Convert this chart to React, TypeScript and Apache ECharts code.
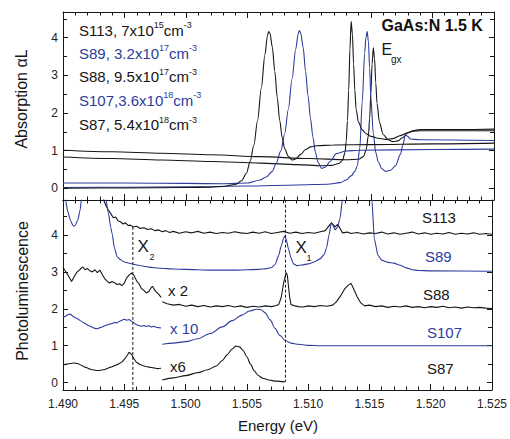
import React, { useEffect, useRef } from 'react';
import * as echarts from 'echarts';

const BLACK = '#161616';
const BLUE = '#2d3c9c';
const FONT = 'Liberation Sans, Arial, Helvetica, sans-serif';

// ---------- Top panel: absorption αL vs energy (eV) ----------
const absS113: [number, number][] = [
  [1.490, 1.01], [1.494, 0.97], [1.498, 0.93], [1.502, 0.89], [1.506, 0.84], [1.510, 0.79], [1.513, 0.76],
  [1.5140, 0.77], [1.5144, 0.84], [1.5146, 1.0], [1.5148, 1.4], [1.5149, 1.85], [1.5150, 2.5], [1.5151, 3.3],
  [1.5152, 3.73], [1.5153, 3.45], [1.5154, 2.8], [1.5155, 2.25], [1.5157, 1.75], [1.5160, 1.43], [1.5164, 1.29],
  [1.5168, 1.24], [1.5172, 1.26], [1.5176, 1.35], [1.5180, 1.47], [1.5184, 1.53], [1.5190, 1.56], [1.5220, 1.56],
  [1.5250, 1.57],
];
const absS89: [number, number][] = [
  [1.490, 0.02], [1.495, 0.03], [1.500, 0.04], [1.505, 0.06], [1.509, 0.09], [1.5115, 0.11], [1.5125, 0.15],
  [1.5130, 0.22], [1.5134, 0.33], [1.5137, 0.45], [1.5139, 0.6], [1.5141, 1.06], [1.5143, 2.3], [1.5145, 3.6],
  [1.5146, 4.0], [1.5147, 4.16], [1.5148, 3.9], [1.5149, 3.2], [1.5150, 2.4], [1.5152, 1.45], [1.5154, 0.95],
  [1.5156, 0.7], [1.5159, 0.52], [1.5162, 0.45], [1.5166, 0.48], [1.5170, 0.6], [1.5174, 0.9], [1.5176, 1.15],
  [1.5178, 1.42], [1.5180, 1.38], [1.5182, 1.31], [1.5190, 1.29], [1.5250, 1.27],
];
const absS88: [number, number][] = [
  [1.490, 0.83], [1.494, 0.79], [1.498, 0.75], [1.502, 0.71], [1.506, 0.67], [1.509, 0.63], [1.511, 0.60],
  [1.5118, 0.61], [1.5124, 0.66], [1.5127, 0.74], [1.5129, 0.95], [1.5130, 1.25], [1.5131, 1.8], [1.5132, 2.6],
  [1.5133, 3.7], [1.5134, 4.43], [1.5135, 4.1], [1.5136, 3.3], [1.5137, 2.6], [1.5138, 2.1], [1.5140, 1.75],
  [1.5143, 1.55], [1.5146, 1.45], [1.5150, 1.38], [1.5156, 1.33], [1.5162, 1.30], [1.5168, 1.32], [1.5174, 1.40],
  [1.5180, 1.48], [1.5186, 1.52], [1.5190, 1.53], [1.5250, 1.53],
];
const absS107: [number, number][] = [
  [1.490, 0.14], [1.495, 0.14], [1.500, 0.13], [1.503, 0.12], [1.505, 0.14], [1.506, 0.22], [1.5065, 0.30],
  [1.5070, 0.45], [1.5073, 0.66], [1.5077, 1.0], [1.5080, 1.45], [1.5083, 2.1], [1.5086, 2.9], [1.5089, 3.7],
  [1.5091, 4.1], [1.5092, 4.19], [1.5093, 4.12], [1.5095, 3.75], [1.5097, 3.1], [1.5099, 2.45], [1.5101, 1.85],
  [1.5103, 1.35], [1.5105, 0.95], [1.5107, 0.7], [1.5110, 0.53], [1.5113, 0.56], [1.5117, 0.72], [1.5122, 0.92],
  [1.5130, 0.99], [1.5140, 1.01], [1.5200, 1.03], [1.5250, 1.04],
];
const absS87: [number, number][] = [
  [1.490, 0.00], [1.495, 0.01], [1.500, 0.02], [1.502, 0.03], [1.503, 0.05], [1.504, 0.10], [1.5045, 0.2],
  [1.5049, 0.4], [1.5052, 0.72], [1.5055, 1.15], [1.5058, 1.8], [1.5061, 2.65], [1.5064, 3.55], [1.5066, 4.05],
  [1.5067, 4.16], [1.5068, 4.12], [1.5070, 3.75], [1.5072, 3.1], [1.5074, 2.4], [1.5076, 1.8], [1.5078, 1.35],
  [1.5080, 1.05], [1.5083, 0.85], [1.5086, 0.75], [1.5089, 0.78], [1.5093, 0.90], [1.5097, 1.03], [1.5101, 1.10],
  [1.5106, 1.13], [1.5120, 1.15], [1.5150, 1.16], [1.5200, 1.18], [1.5250, 1.20],
];

// ---------- Bottom panel: photoluminescence (offset, scaled) ----------
const plS113: [number, number][] = [
  [1.4930, 5.4], [1.4933, 4.96], [1.4935, 4.80], [1.4937, 4.68], [1.4939, 4.58], [1.4941, 4.47], [1.4943, 4.49],
  [1.4945, 4.38], [1.4947, 4.36], [1.4949, 4.30], [1.4951, 4.33], [1.4953, 4.26], [1.4955, 4.27], [1.4957, 4.22],
  [1.4960, 4.24], [1.4963, 4.18], [1.4966, 4.20], [1.4969, 4.15], [1.4972, 4.17], [1.4975, 4.12], [1.4978, 4.14],
  [1.4981, 4.09], [1.4984, 4.12], [1.4987, 4.07], [1.4990, 4.10], [1.4995, 4.05], [1.5000, 4.09], [1.5005, 4.06],
  [1.5010, 4.10], [1.5015, 4.05], [1.5020, 4.08], [1.5025, 4.04], [1.5030, 4.07], [1.5035, 4.05], [1.5040, 4.09],
  [1.5045, 4.06], [1.5050, 4.04], [1.5055, 4.08], [1.5060, 4.05], [1.5065, 4.09], [1.5070, 4.04], [1.5075, 4.07],
  [1.5080, 4.10], [1.5085, 4.05], [1.5090, 4.08], [1.5095, 4.04], [1.5100, 4.07], [1.5105, 4.05], [1.5110, 4.09],
  [1.5114, 4.12], [1.5117, 4.25], [1.5119, 4.33], [1.5121, 4.26], [1.5122, 4.22], [1.5124, 4.29], [1.5126, 4.18],
  [1.5128, 4.06], [1.5132, 4.08], [1.5135, 4.04], [1.5140, 4.07], [1.5145, 4.03], [1.5150, 4.06], [1.5155, 4.04],
  [1.5160, 4.08], [1.5165, 4.03], [1.5170, 4.06], [1.5175, 4.02], [1.5180, 4.05], [1.5185, 4.08], [1.5190, 4.03],
  [1.5195, 4.06], [1.5200, 4.02], [1.5205, 4.05], [1.5210, 4.03], [1.5215, 4.07], [1.5220, 4.02], [1.5225, 4.05],
  [1.5230, 4.03], [1.5235, 4.06], [1.5240, 4.02], [1.5245, 4.04], [1.5250, 4.02],
];
const plS89: [number, number][] = [
  [1.4900, 5.6], [1.4902, 4.96], [1.4904, 4.62], [1.4906, 4.40], [1.4908, 4.27], [1.4909, 4.24], [1.4910, 4.26],
  [1.4912, 4.40], [1.4914, 4.68], [1.4915, 4.96], [1.4917, 5.6], [1.4925, 7.0], [1.4933, 5.5], [1.4935, 4.96],
  [1.4937, 4.6], [1.4939, 4.2], [1.4940, 4.05], [1.4942, 3.65], [1.4944, 3.42], [1.4947, 3.33], [1.4950, 3.27],
  [1.4955, 3.23], [1.4960, 3.19], [1.4970, 3.13], [1.4980, 3.10], [1.4990, 3.08], [1.5000, 3.07], [1.5020, 3.05],
  [1.5040, 3.05], [1.5060, 3.07], [1.5066, 3.09], [1.5070, 3.12], [1.5073, 3.2], [1.5076, 3.45], [1.5078, 3.70],
  [1.5080, 3.92], [1.5081, 3.97], [1.5082, 3.90], [1.5084, 3.62], [1.5086, 3.38], [1.5088, 3.22], [1.5091, 3.17],
  [1.5095, 3.19], [1.5100, 3.22], [1.5105, 3.27], [1.5110, 3.36], [1.5113, 3.47], [1.5115, 3.65], [1.5117, 4.0],
  [1.5119, 4.33], [1.5120, 4.28], [1.5122, 4.14], [1.5124, 4.22], [1.5126, 4.45], [1.5128, 4.96], [1.5130, 5.8],
  [1.5140, 8.0], [1.5150, 5.8], [1.5152, 4.96], [1.5154, 3.90], [1.5157, 3.45], [1.5160, 3.32], [1.5165, 3.26],
  [1.5170, 3.24], [1.5175, 3.18], [1.5180, 3.11], [1.5185, 3.06], [1.5190, 3.04], [1.5200, 3.03], [1.5250, 3.02],
];
const plS88Low: [number, number][] = [
  [1.4900, 3.12], [1.4902, 3.02], [1.4904, 2.92], [1.4906, 2.80], [1.4907, 2.74], [1.4909, 2.86], [1.4911, 2.98],
  [1.4913, 3.04], [1.4915, 3.10], [1.4916, 3.14], [1.4918, 3.06], [1.4920, 3.09], [1.4922, 3.03], [1.4924, 3.00],
  [1.4926, 3.06], [1.4928, 2.98], [1.4930, 3.05], [1.4932, 2.93], [1.4934, 2.82], [1.4936, 2.75], [1.4938, 2.70],
  [1.4940, 2.74], [1.4942, 2.71], [1.4944, 2.66], [1.4946, 2.68], [1.4948, 2.63], [1.4950, 2.70], [1.4952, 2.84],
  [1.4954, 2.92], [1.4956, 2.97], [1.4958, 2.90], [1.4960, 2.76], [1.4962, 2.68], [1.4964, 2.55], [1.4966, 2.50],
  [1.4968, 2.43], [1.4970, 2.47], [1.4972, 2.58], [1.4973, 2.61], [1.4975, 2.50], [1.4976, 2.46], [1.4978, 2.40],
  [1.4980, 2.31],
];
const plS88High: [number, number][] = [
  [1.4981, 2.19], [1.4985, 2.14], [1.4990, 2.10], [1.4995, 2.12], [1.5000, 2.07], [1.5005, 2.10], [1.5010, 2.06],
  [1.5015, 2.09], [1.5020, 2.05], [1.5025, 2.08], [1.5030, 2.06], [1.5035, 2.09], [1.5040, 2.05], [1.5045, 2.08],
  [1.5050, 2.04], [1.5055, 2.07], [1.5060, 2.05], [1.5065, 2.08], [1.5070, 2.06], [1.5074, 2.09], [1.5076, 2.12],
  [1.5078, 2.30], [1.5080, 2.70], [1.5082, 2.98], [1.5083, 2.92], [1.5084, 2.60], [1.5085, 2.30], [1.5086, 2.12],
  [1.5089, 2.08], [1.5092, 2.06], [1.5096, 2.05], [1.5100, 2.08], [1.5105, 2.06], [1.5110, 2.09], [1.5115, 2.07],
  [1.5120, 2.10], [1.5123, 2.19], [1.5127, 2.38], [1.5130, 2.55], [1.5133, 2.65], [1.5135, 2.69], [1.5137, 2.55],
  [1.5140, 2.33], [1.5143, 2.16], [1.5146, 2.08], [1.5150, 2.10], [1.5155, 2.06], [1.5160, 2.08], [1.5165, 2.04],
  [1.5170, 2.07], [1.5175, 2.05], [1.5180, 2.08], [1.5185, 2.04], [1.5190, 2.06], [1.5195, 2.03], [1.5200, 2.06],
  [1.5205, 2.04], [1.5210, 2.07], [1.5215, 2.03], [1.5220, 2.05], [1.5225, 2.02], [1.5230, 2.05], [1.5235, 2.03],
  [1.5240, 2.04], [1.5245, 2.02], [1.5250, 2.01],
];
const plS107Low: [number, number][] = [
  [1.4900, 1.77], [1.4902, 1.80], [1.4904, 1.84], [1.4906, 1.86], [1.4908, 1.80], [1.4910, 1.76], [1.4912, 1.73],
  [1.4914, 1.68], [1.4916, 1.64], [1.4918, 1.60], [1.4920, 1.56], [1.4922, 1.53], [1.4924, 1.50], [1.4926, 1.47],
  [1.4928, 1.46], [1.4930, 1.49], [1.4932, 1.51], [1.4934, 1.54], [1.4936, 1.56], [1.4938, 1.59], [1.4940, 1.60],
  [1.4942, 1.63], [1.4944, 1.62], [1.4946, 1.66], [1.4948, 1.69], [1.4950, 1.72], [1.4952, 1.69], [1.4954, 1.71],
  [1.4956, 1.66], [1.4958, 1.62], [1.4960, 1.57], [1.4962, 1.55], [1.4964, 1.53], [1.4966, 1.55], [1.4968, 1.52],
  [1.4970, 1.54], [1.4972, 1.51], [1.4974, 1.53], [1.4976, 1.50], [1.4978, 1.49], [1.4980, 1.48],
];
const plS107High: [number, number][] = [
  [1.4981, 1.04], [1.4990, 1.07], [1.5000, 1.11], [1.5010, 1.19], [1.5020, 1.33], [1.5030, 1.51], [1.5038, 1.68],
  [1.5046, 1.83], [1.5052, 1.94], [1.5058, 1.99], [1.5062, 1.97], [1.5065, 1.89], [1.5069, 1.70], [1.5073, 1.47],
  [1.5077, 1.28], [1.5081, 1.15], [1.5086, 1.07], [1.5092, 1.04], [1.5100, 1.01], [1.5110, 1.00], [1.5250, 1.00],
];
const plS87Low: [number, number][] = [
  [1.4900, 0.48], [1.4903, 0.50], [1.4906, 0.52], [1.4909, 0.53], [1.4912, 0.52], [1.4915, 0.47], [1.4918, 0.42],
  [1.4921, 0.38], [1.4924, 0.35], [1.4927, 0.33], [1.4930, 0.33], [1.4933, 0.35], [1.4936, 0.38], [1.4939, 0.42],
  [1.4942, 0.46], [1.4945, 0.50], [1.4948, 0.56], [1.4950, 0.63], [1.4952, 0.72], [1.4954, 0.82], [1.4956, 0.76],
  [1.4958, 0.64], [1.4960, 0.55], [1.4963, 0.49], [1.4966, 0.45], [1.4970, 0.42], [1.4974, 0.40], [1.4977, 0.38],
  [1.4980, 0.39],
];
const plS87High: [number, number][] = [
  [1.4981, 0.07], [1.4990, 0.13], [1.5000, 0.19], [1.5010, 0.27], [1.5018, 0.35], [1.5025, 0.45], [1.5030, 0.60],
  [1.5034, 0.76], [1.5038, 0.91], [1.5041, 0.99], [1.5044, 0.97], [1.5047, 0.87], [1.5050, 0.70], [1.5053, 0.50],
  [1.5056, 0.32], [1.5059, 0.20], [1.5063, 0.12], [1.5068, 0.07], [1.5074, 0.04], [1.5081, 0.02],
];
const markerX1: [number, number][] = [[1.50815, 4.96], [1.50815, 0.02]];
const markerX2: [number, number][] = [[1.4957, 4.22], [1.4957, -0.2]];

// ---------- Texts ----------
const legendHeads = ['S113, 7x10', 'S89, 3.2x10', 'S88, 9.5x10', 'S107,3.6x10', 'S87, 5.4x10'];
const legendExps = ['15', '17', '17', '18', '18'];
const sampleNames = ['S113', 'S89', 'S88', 'S107', 'S87'];
const scaleNotes = ['x 2', 'x 10', 'x6'];

function xAxisOf(gridIndex: number, position: string, showLabel: boolean) {
  return {
    type: 'value', gridIndex, position, min: 1.49, max: 1.525, interval: 0.005,
    axisLine: { show: true, onZero: false, lineStyle: { color: BLACK, width: 1 } },
    axisTick: { show: true, inside: true, length: 6, lineStyle: { color: BLACK, width: 1 } },
    minorTick: { show: true, splitNumber: 5, length: 3.5, lineStyle: { color: BLACK, width: 1 } },
    splitLine: { show: false },
    minorSplitLine: { show: false },
    axisLabel: {
      show: showLabel, color: '#222', fontSize: 12, fontFamily: FONT, margin: 8,
      formatter: (v: number) => v.toFixed(3),
    },
  };
}
function yAxisOf(gridIndex: number, position: string, min: number, max: number, showLabel: boolean) {
  return {
    type: 'value', gridIndex, position, min, max, minInterval: 1, maxInterval: 1,
    axisLine: { show: true, onZero: false, lineStyle: { color: BLACK, width: 1 } },
    axisTick: { show: true, inside: true, length: 5, lineStyle: { color: BLACK, width: 1 } },
    minorTick: { show: true, splitNumber: 2, length: 4, lineStyle: { color: BLACK, width: 1 } },
    splitLine: { show: false },
    minorSplitLine: { show: false },
    axisLabel: {
      show: showLabel, color: '#222', fontSize: 12, fontFamily: FONT, margin: 5,
      formatter: (v: number) => (Math.abs(v - Math.round(v)) < 1e-6 ? String(Math.round(v)) : ''),
    },
  };
}

function lineSeries(data: [number, number][], color: string, panel: number, smooth = 0, dashed = false) {
  return {
    type: 'line', data, xAxisIndex: panel * 2, yAxisIndex: panel * 2,
    symbol: 'none', silent: true, clip: true, smooth, smoothMonotone: 'x',
    lineStyle: { color, width: dashed ? 1 : 1.1, type: dashed ? [3, 2] : 'solid' },
  };
}

function plainText(x: number, y: number, text: string, color: string, size = 15, extra: any = {}) {
  return {
    type: 'text', x, y, silent: true,
    style: { text, fill: color, fontSize: size, fontFamily: FONT, align: 'left', verticalAlign: 'middle', ...extra },
  };
}

export default function App() {
  const ref = useRef<HTMLDivElement>(null);
  useEffect(() => {
    if (!ref.current) return;
    const chart = echarts.init(ref.current, null, { renderer: 'svg' });
    const legendColors = [BLACK, BLUE, BLACK, BLUE, BLACK];
    const legendY = [30, 53, 76.5, 100, 124.5];
    const graphics: any[] = [];
    legendHeads.forEach((h, i) => {
      graphics.push({
        type: 'text', x: 79, y: legendY[i], silent: true,
        style: {
          text: `{n|${h}}{s|${legendExps[i]}}{n|cm}{s|-3}`,
          align: 'left', verticalAlign: 'middle',
          rich: {
            n: { fontSize: 15, fontFamily: FONT, fill: legendColors[i], lineHeight: 19 },
            s: { fontSize: 9, fontFamily: FONT, fill: legendColors[i], verticalAlign: 'top' },
          },
        },
      });
    });
    const nameX = [422, 425, 423, 427, 427];
    const nameY = [217.5, 256, 294, 332, 368.5];
    sampleNames.forEach((s, i) => graphics.push(plainText(nameX[i], nameY[i], s, legendColors[i])));
    graphics.push(plainText(168, 290, scaleNotes[0], BLACK));
    graphics.push(plainText(170, 328, scaleNotes[1], BLUE));
    graphics.push(plainText(170, 366, scaleNotes[2], BLACK));
    graphics.push(plainText(137.5, 246.5, 'X', BLACK, 17));
    graphics.push(plainText(149.5, 257, '2', BLACK, 9));
    graphics.push(plainText(295.5, 247, 'X', BLACK, 17));
    graphics.push(plainText(306.5, 257.5, '1', BLACK, 9));
    graphics.push(plainText(381.5, 49, 'E', BLACK, 16));
    graphics.push(plainText(391, 59, 'gx', BLACK, 10));
    graphics.push(plainText(381.5, 25, 'GaAs:N 1.5 K', '#111', 16, { fontWeight: 'bold' }));
    graphics.push({
      type: 'text', x: 21, y: 99, rotation: Math.PI / 2, silent: true,
      style: { text: 'Absorption \u03b1L', fill: BLACK, fontSize: 16, fontFamily: FONT, align: 'center', verticalAlign: 'middle' },
    });
    graphics.push({
      type: 'text', x: 22, y: 291, rotation: Math.PI / 2, silent: true,
      style: { text: 'Photoluminescence', fill: BLACK, fontSize: 16, fontFamily: FONT, align: 'center', verticalAlign: 'middle' },
    });
    graphics.push({
      type: 'text', x: 278, y: 425, silent: true,
      style: { text: 'Energy (eV)', fill: BLACK, fontSize: 15, fontFamily: FONT, align: 'center', verticalAlign: 'middle' },
    });

    chart.setOption({
      animation: false,
      backgroundColor: '#ffffff',
      grid: [
        { left: 63, right: 16, top: 12, height: 188 },
        { left: 63, right: 16, top: 200, height: 190 },
      ],
      xAxis: [
        xAxisOf(0, 'bottom', false),
        xAxisOf(0, 'top', false),
        xAxisOf(1, 'bottom', true),
        xAxisOf(1, 'top', false),
      ],
      yAxis: [
        yAxisOf(0, 'left', -0.31, 4.68, true),
        yAxisOf(0, 'right', -0.31, 4.68, false),
        yAxisOf(1, 'left', -0.2, 4.95, true),
        yAxisOf(1, 'right', -0.2, 4.95, false),
      ],
      series: [
        lineSeries(absS113, BLACK, 0, 0.3),
        lineSeries(absS89, BLUE, 0, 0.3),
        lineSeries(absS88, BLACK, 0, 0.3),
        lineSeries(absS107, BLUE, 0, 0.3),
        lineSeries(absS87, BLACK, 0, 0.3),
        lineSeries(plS113, BLACK, 1),
        lineSeries(plS89, BLUE, 1, 0.2),
        lineSeries(plS88Low, BLACK, 1),
        lineSeries(plS88High, BLACK, 1),
        lineSeries(plS107Low, BLUE, 1),
        lineSeries(plS107High, BLUE, 1, 0.3),
        lineSeries(plS87Low, BLACK, 1, 0.2),
        lineSeries(plS87High, BLACK, 1, 0.3),
        lineSeries(markerX1, BLACK, 1, 0, true),
        lineSeries(markerX2, BLACK, 1, 0, true),
      ],
      graphic: graphics,
    });
    return () => chart.dispose();
  }, []);
  return (
    <div
      ref={ref}
      style={{ position: 'absolute', left: 0, top: 0, width: 510, height: 439, background: '#fff' }}
    />
  );
}
